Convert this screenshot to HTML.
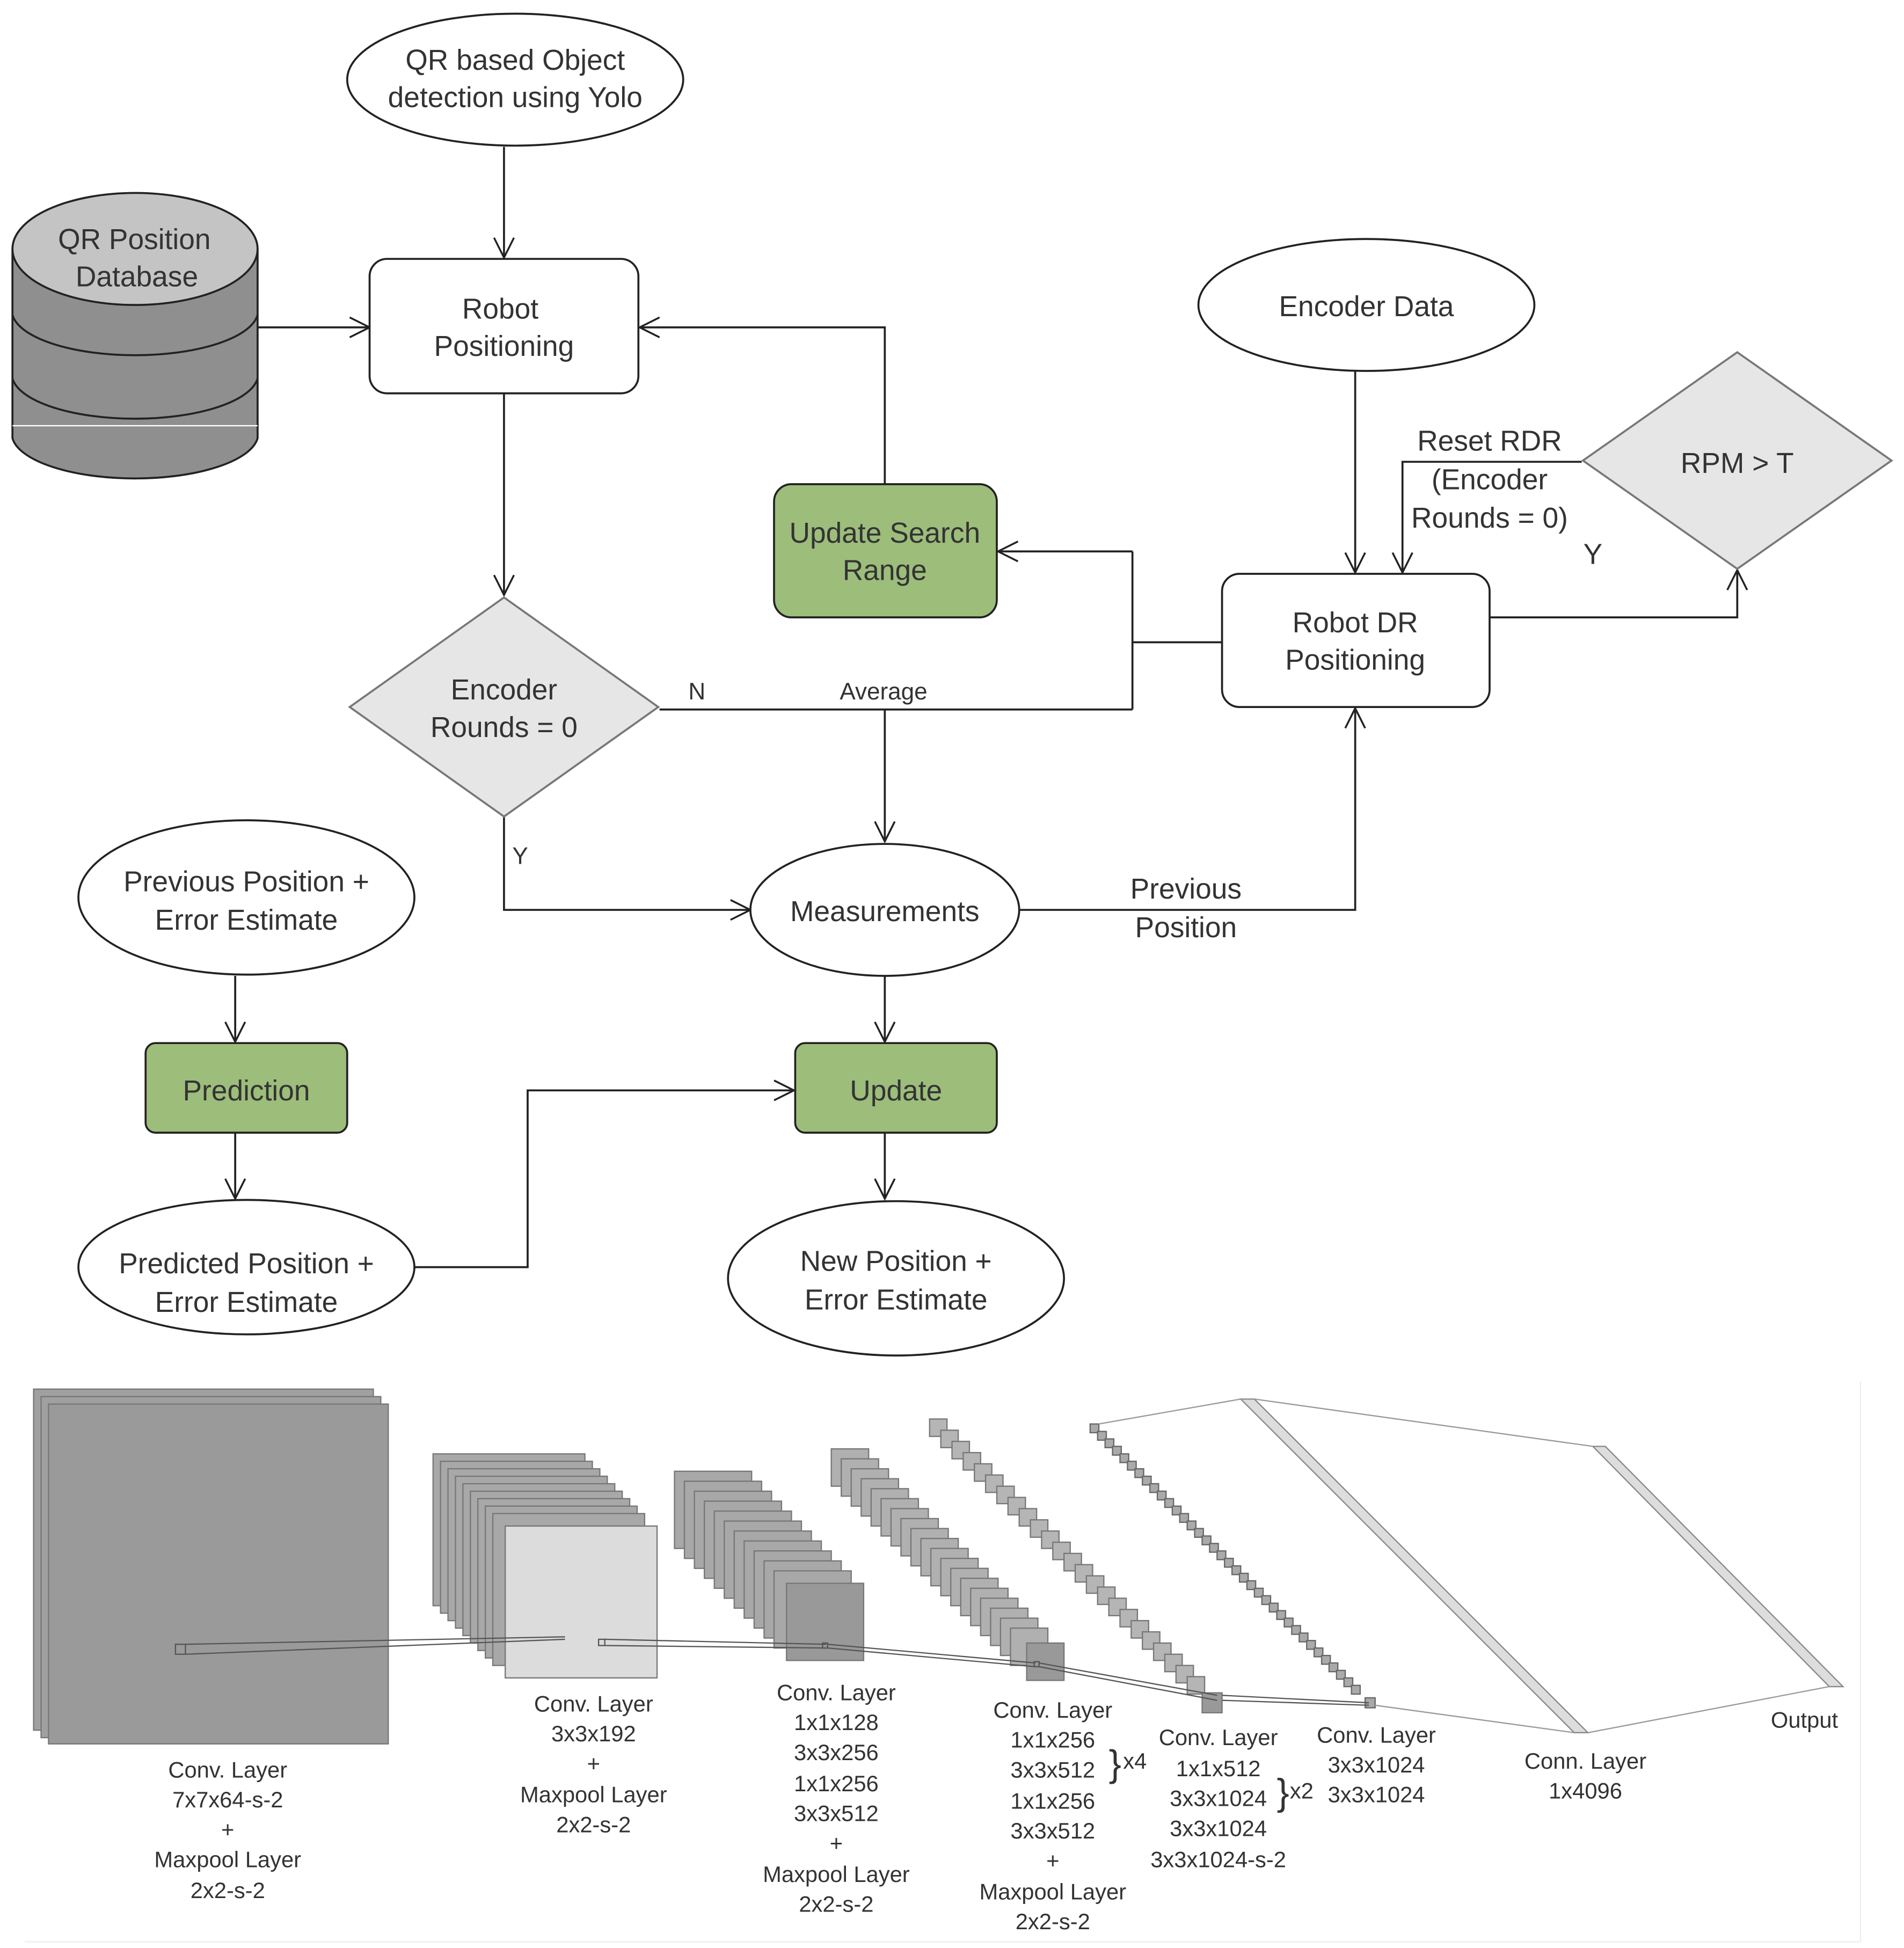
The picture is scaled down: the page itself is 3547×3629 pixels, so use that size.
<!DOCTYPE html>
<html><head><meta charset="utf-8"><style>
html,body{margin:0;padding:0;background:#fff;}
svg{display:block;}
text{font-family:"Liberation Sans",sans-serif;fill:#333;}
.t{font-size:23px;}
.b{font-size:18px;fill:#111;}
</style></head><body>
<svg width="3547" height="3629" viewBox="0 0 1530 1565" preserveAspectRatio="none" xmlns="http://www.w3.org/2000/svg">
<defs>
<marker id="a" markerWidth="20" markerHeight="20" refX="18" refY="10" orient="auto" markerUnits="userSpaceOnUse">
<path d="M2,2 L18,10 L2,18" fill="none" stroke="#222" stroke-width="1.5"/></marker>
</defs>
<rect width="1530" height="1565" fill="#fff"/>
<g stroke="#222" stroke-width="1.6" fill="none">
<line x1="405" y1="118" x2="405" y2="207" marker-end="url(#a)"/>
<line x1="207" y1="263" x2="297" y2="263" marker-end="url(#a)"/>
<polyline points="711,389 711,263 514,263" marker-end="url(#a)"/>
<line x1="405" y1="316" x2="405" y2="478" marker-end="url(#a)"/>
<line x1="1089" y1="298" x2="1089" y2="460" marker-end="url(#a)"/>
<polyline points="1197,496 1396,496 1396,458" marker-end="url(#a)"/>
<polyline points="1271,371 1127,371 1127,460" marker-end="url(#a)"/>
<line x1="982" y1="516" x2="910" y2="516"/>
<line x1="910" y1="443" x2="910" y2="570"/>
<line x1="910" y1="443" x2="802" y2="443" marker-end="url(#a)"/>
<line x1="530" y1="570" x2="910" y2="570"/>
<line x1="711" y1="570" x2="711" y2="676" marker-end="url(#a)"/>
<polyline points="405,656 405,731 603,731" marker-end="url(#a)"/>
<polyline points="819,731 1089,731 1089,569" marker-end="url(#a)"/>
<line x1="189" y1="784" x2="189" y2="837" marker-end="url(#a)"/>
<line x1="189" y1="910" x2="189" y2="963" marker-end="url(#a)"/>
<polyline points="333,1018 424,1018 424,876 638,876" marker-end="url(#a)"/>
<line x1="711" y1="784" x2="711" y2="837" marker-end="url(#a)"/>
<line x1="711" y1="910" x2="711" y2="963" marker-end="url(#a)"/>
</g>
<g stroke="#222" stroke-width="1.6">
<ellipse cx="414" cy="64" rx="135" ry="53" fill="#fff"/>
<ellipse cx="1098" cy="245" rx="135" ry="53" fill="#fff"/>
<ellipse cx="711" cy="731" rx="108" ry="53" fill="#fff"/>
<ellipse cx="198" cy="721" rx="135" ry="62" fill="#fff"/>
<ellipse cx="198" cy="1018" rx="135" ry="54" fill="#fff"/>
<ellipse cx="720" cy="1027" rx="135" ry="62" fill="#fff"/>
<rect x="297" y="208" width="216" height="108" rx="14" fill="#fff"/>
<rect x="982" y="461" width="215" height="107" rx="14" fill="#fff"/>
<rect x="622" y="389" width="179" height="107" rx="14" fill="#9dbd7b"/>
<rect x="117" y="838" width="162" height="72" rx="8" fill="#9dbd7b"/>
<rect x="639" y="838" width="162" height="72" rx="8" fill="#9dbd7b"/>
<polygon points="405,480 529,568 405,656 281,568" fill="#e6e6e6" stroke="#777"/>
<polygon points="1396,283 1520,370 1396,457 1272,370" fill="#e6e6e6" stroke="#777"/>
<!-- database -->
<path d="M10,200 L10,352 A99,36 0 0 0 207,352 L207,200" fill="#8f8f8f"/>
<path d="M10,253 A99,36 0 0 0 207,253 M10,304 A99,36 0 0 0 207,304" fill="none"/>
<ellipse cx="108.5" cy="200" rx="98.5" ry="45" fill="#c4c4c4"/>
</g>
<line x1="10" y1="342" x2="207" y2="342" stroke="#fff" stroke-width="1"/>
<g class="t" text-anchor="middle">
<text x="414" y="56">QR based Object</text><text x="414" y="86">detection using Yolo</text>
<text x="108" y="200">QR Position</text><text x="110" y="230">Database</text>
<text x="402" y="256">Robot</text><text x="405" y="286">Positioning</text>
<text x="711" y="436">Update Search</text><text x="711" y="466">Range</text>
<text x="1098" y="254">Encoder Data</text>
<text x="1396" y="380">RPM &gt; T</text>
<text x="1089" y="508">Robot DR</text><text x="1089" y="538">Positioning</text>
<text x="1197" y="362">Reset RDR</text><text x="1197" y="393">(Encoder</text><text x="1197" y="424">Rounds = 0)</text>
<text x="1280" y="453">Y</text>
<text x="405" y="562">Encoder</text><text x="405" y="592">Rounds = 0</text>
<text x="560" y="562" style="font-size:19px">N</text>
<text x="710" y="562" style="font-size:19px">Average</text>
<text x="418" y="694" style="font-size:19px">Y</text>
<text x="711" y="740">Measurements</text>
<text x="953" y="722">Previous</text><text x="953" y="753">Position</text>
<text x="198" y="716">Previous Position +</text><text x="198" y="747">Error Estimate</text>
<text x="198" y="884">Prediction</text>
<text x="720" y="884">Update</text>
<text x="198" y="1023">Predicted Position +</text><text x="198" y="1054">Error Estimate</text>
<text x="720" y="1021">New Position +</text><text x="720" y="1052">Error Estimate</text>
</g>
<!-- CNN -->
<g stroke="#777" stroke-width="1">
<rect x="27" y="1116" width="273" height="274" fill="#a0a0a0"/>
<rect x="33" y="1122" width="273" height="274" fill="#a0a0a0"/>
<rect x="39" y="1128" width="273" height="273" fill="#9a9a9a"/>
<rect x="348" y="1168" width="122" height="122" fill="#a8a8a8"/>
<rect x="354" y="1174" width="122" height="122" fill="#a8a8a8"/>
<rect x="360" y="1180" width="122" height="122" fill="#a8a8a8"/>
<rect x="366" y="1186" width="122" height="122" fill="#a8a8a8"/>
<rect x="372" y="1192" width="122" height="122" fill="#a8a8a8"/>
<rect x="378" y="1198" width="122" height="122" fill="#a8a8a8"/>
<rect x="384" y="1204" width="122" height="122" fill="#a8a8a8"/>
<rect x="390" y="1210" width="122" height="122" fill="#a8a8a8"/>
<rect x="396" y="1216" width="122" height="122" fill="#a8a8a8"/>
<rect x="406" y="1226" width="122" height="122" fill="#dcdcdc"/>
</g>
<g stroke="#777" stroke-width="1" fill="#a8a8a8">
<rect x="542" y="1182" width="62" height="62"/><rect x="550" y="1190" width="62" height="62"/>
<rect x="558" y="1198" width="62" height="62"/><rect x="566" y="1206" width="62" height="62"/>
<rect x="574" y="1214" width="62" height="62"/><rect x="582" y="1222" width="62" height="62"/>
<rect x="590" y="1230" width="62" height="62"/><rect x="598" y="1238" width="62" height="62"/>
<rect x="606" y="1246" width="62" height="62"/><rect x="614" y="1254" width="62" height="62"/>
<rect x="622" y="1262" width="62" height="62"/><rect x="632" y="1272" width="62" height="62" fill="#999"/>
</g>
<g stroke="#777" stroke-width="1" fill="#b0b0b0">
<rect x="668" y="1164" width="30" height="30"/><rect x="676" y="1172" width="30" height="30"/>
<rect x="684" y="1180" width="30" height="30"/><rect x="692" y="1188" width="30" height="30"/>
<rect x="700" y="1196" width="30" height="30"/><rect x="708" y="1204" width="30" height="30"/>
<rect x="716" y="1212" width="30" height="30"/><rect x="724" y="1220" width="30" height="30"/>
<rect x="732" y="1228" width="30" height="30"/><rect x="740" y="1236" width="30" height="30"/>
<rect x="748" y="1244" width="30" height="30"/><rect x="756" y="1252" width="30" height="30"/>
<rect x="764" y="1260" width="30" height="30"/><rect x="772" y="1268" width="30" height="30"/>
<rect x="780" y="1276" width="30" height="30"/><rect x="788" y="1284" width="30" height="30"/>
<rect x="796" y="1292" width="30" height="30"/><rect x="804" y="1300" width="30" height="30"/>
<rect x="812" y="1308" width="30" height="30"/><rect x="825" y="1320" width="30" height="30" fill="#999"/>
</g>
<g stroke="#777" stroke-width="1" fill="#b5b5b5">
<rect x="747" y="1140" width="14" height="14"/><rect x="756" y="1149" width="14" height="14"/>
<rect x="765" y="1158" width="14" height="14"/><rect x="774" y="1167" width="14" height="14"/>
<rect x="783" y="1176" width="14" height="14"/><rect x="792" y="1185" width="14" height="14"/>
<rect x="801" y="1194" width="14" height="14"/><rect x="810" y="1203" width="14" height="14"/>
<rect x="819" y="1212" width="14" height="14"/><rect x="828" y="1221" width="14" height="14"/>
<rect x="837" y="1230" width="14" height="14"/><rect x="846" y="1239" width="14" height="14"/>
<rect x="855" y="1248" width="14" height="14"/><rect x="864" y="1257" width="14" height="14"/>
<rect x="873" y="1266" width="14" height="14"/><rect x="882" y="1275" width="14" height="14"/>
<rect x="891" y="1284" width="14" height="14"/><rect x="900" y="1293" width="14" height="14"/>
<rect x="909" y="1302" width="14" height="14"/><rect x="918" y="1311" width="14" height="14"/>
<rect x="927" y="1320" width="14" height="14"/><rect x="936" y="1329" width="14" height="14"/>
<rect x="945" y="1338" width="14" height="14"/><rect x="954" y="1347" width="14" height="14"/>
<rect x="966" y="1360" width="16" height="16" fill="#999"/>
</g>
<g stroke="#666" stroke-width="1" fill="#aaa">
<rect x="876" y="1144" width="7" height="7"/><rect x="882" y="1150" width="7" height="7"/>
<rect x="888" y="1156" width="7" height="7"/><rect x="894" y="1162" width="7" height="7"/>
<rect x="900" y="1168" width="7" height="7"/><rect x="906" y="1174" width="7" height="7"/>
<rect x="912" y="1180" width="7" height="7"/><rect x="918" y="1186" width="7" height="7"/>
<rect x="924" y="1192" width="7" height="7"/><rect x="930" y="1198" width="7" height="7"/>
<rect x="936" y="1204" width="7" height="7"/><rect x="942" y="1210" width="7" height="7"/>
<rect x="948" y="1216" width="7" height="7"/><rect x="954" y="1222" width="7" height="7"/>
<rect x="960" y="1228" width="7" height="7"/><rect x="966" y="1234" width="7" height="7"/>
<rect x="972" y="1240" width="7" height="7"/><rect x="978" y="1246" width="7" height="7"/>
<rect x="984" y="1252" width="7" height="7"/><rect x="990" y="1258" width="7" height="7"/>
<rect x="996" y="1264" width="7" height="7"/><rect x="1002" y="1270" width="7" height="7"/>
<rect x="1008" y="1276" width="7" height="7"/><rect x="1014" y="1282" width="7" height="7"/>
<rect x="1020" y="1288" width="7" height="7"/><rect x="1026" y="1294" width="7" height="7"/>
<rect x="1032" y="1300" width="7" height="7"/><rect x="1038" y="1306" width="7" height="7"/>
<rect x="1044" y="1312" width="7" height="7"/><rect x="1050" y="1318" width="7" height="7"/>
<rect x="1056" y="1324" width="7" height="7"/><rect x="1062" y="1330" width="7" height="7"/>
<rect x="1068" y="1336" width="7" height="7"/><rect x="1074" y="1342" width="7" height="7"/>
<rect x="1080" y="1348" width="7" height="7"/><rect x="1086" y="1354" width="7" height="7"/>
<rect x="1097" y="1364" width="8" height="8"/>
</g>
<g stroke="#888" stroke-width="1" fill="#ddd">
<polygon points="997,1124 1008,1124 1276,1392 1265,1392"/>
<polygon points="1280,1162 1290,1162 1481,1355 1470,1355"/>
</g>
<g stroke="#555" stroke-width="1" fill="none">
<rect x="141" y="1321" width="8" height="8"/>
<line x1="149" y1="1321" x2="454" y2="1315"/><line x1="149" y1="1329" x2="454" y2="1317"/>
<rect x="481" y="1317" width="5" height="5"/>
<line x1="486" y1="1317" x2="664" y2="1321"/><line x1="486" y1="1322" x2="664" y2="1324"/>
<rect x="661" y="1320" width="4" height="4"/>
<line x1="665" y1="1321" x2="832" y2="1336"/><line x1="665" y1="1324" x2="832" y2="1339"/>
<rect x="831" y="1335" width="4" height="4"/>
<line x1="835" y1="1336" x2="978" y2="1362"/><line x1="835" y1="1339" x2="978" y2="1366"/>
<line x1="982" y1="1362" x2="1100" y2="1368"/><line x1="982" y1="1366" x2="1100" y2="1370"/>
</g>
<g stroke="#999" stroke-width="1" fill="none">
<line x1="883" y1="1144" x2="997" y2="1124"/><line x1="1105" y1="1370" x2="1265" y2="1392"/>
<line x1="1008" y1="1124" x2="1280" y2="1162"/><line x1="1276" y1="1392" x2="1470" y2="1355"/>
</g>
<line x1="1495" y1="1110" x2="1495" y2="1560" stroke="#eee"/>
<line x1="20" y1="1560" x2="1495" y2="1560" stroke="#eee"/>
<g class="b" text-anchor="middle">
<text x="183" y="1428">Conv. Layer</text><text x="183" y="1452">7x7x64-s-2</text><text x="183" y="1476">+</text><text x="183" y="1500">Maxpool Layer</text><text x="183" y="1525">2x2-s-2</text>
<text x="477" y="1375">Conv. Layer</text><text x="477" y="1399">3x3x192</text><text x="477" y="1423">+</text><text x="477" y="1448">Maxpool Layer</text><text x="477" y="1472">2x2-s-2</text>
<text x="672" y="1366">Conv. Layer</text><text x="672" y="1390">1x1x128</text><text x="672" y="1414">3x3x256</text><text x="672" y="1439">1x1x256</text><text x="672" y="1463">3x3x512</text><text x="672" y="1487">+</text><text x="672" y="1512">Maxpool Layer</text><text x="672" y="1536">2x2-s-2</text>
<text x="846" y="1380">Conv. Layer</text><text x="846" y="1404">1x1x256</text><text x="846" y="1428">3x3x512</text><text x="846" y="1453">1x1x256</text><text x="846" y="1477">3x3x512</text><text x="846" y="1501">+</text><text x="846" y="1526">Maxpool Layer</text><text x="846" y="1550">2x2-s-2</text>
<text x="979" y="1402">Conv. Layer</text><text x="979" y="1427">1x1x512</text><text x="979" y="1451">3x3x1024</text><text x="979" y="1475">3x3x1024</text><text x="979" y="1500">3x3x1024-s-2</text>
<text x="1106" y="1400">Conv. Layer</text><text x="1106" y="1424">3x3x1024</text><text x="1106" y="1448">3x3x1024</text>
<text x="1274" y="1421">Conn. Layer</text><text x="1274" y="1445">1x4096</text>
<text x="1450" y="1388">Output</text>
<text x="896" y="1427" style="font-size:30px">}</text><text x="912" y="1421">x4</text>
<text x="1031" y="1450" style="font-size:30px">}</text><text x="1046" y="1445">x2</text>
</g>
</svg>
</body></html>
